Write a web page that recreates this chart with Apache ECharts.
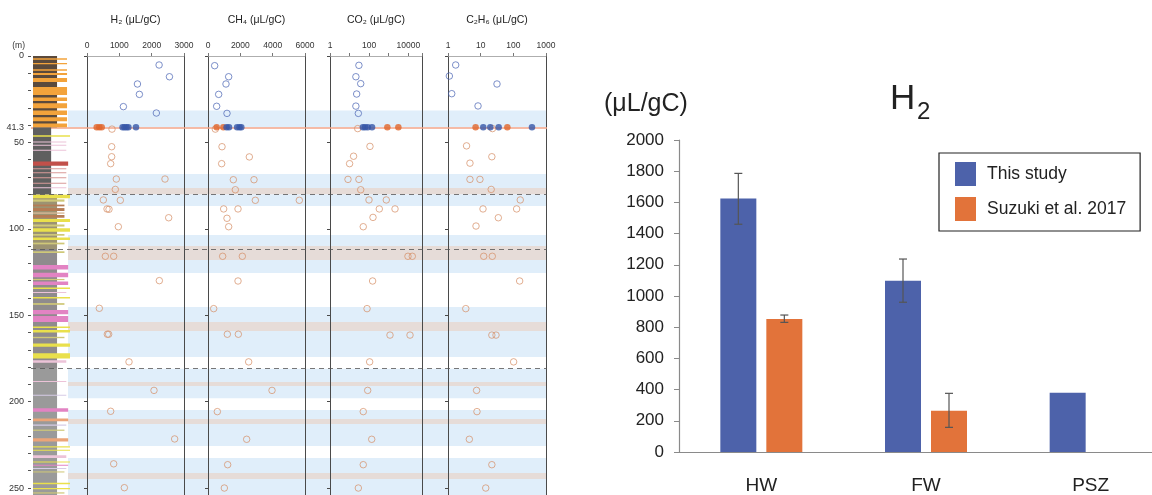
<!DOCTYPE html>
<html><head><meta charset="utf-8">
<script src="https://cdn.jsdelivr.net/npm/echarts@6/dist/echarts.min.js"></script>
<style>html,body{margin:0;padding:0;background:#fff}#c{width:1152px;height:495px}</style>
</head><body><div id="c"></div>
<script>
// ---------------- DATA ----------------
// depth profile (left): depth in m
const faultDepth = 41.3;
const boundaryDepths = [80, 111.7, 180.6];
const bandsBlue = [[31.5,41.3],[68.3,76.4],[80,86.8],[103.6,110],[118,125.6],[145.3,153.9],[159.1,174.2],[181,188.7],[191,198],[204.9,210],[213,225.7],[232.6,241.3],[244.8,260]];
const bandsGray = [[76.4,80],[110,118],[153.9,159.1],[188.7,191],[210,213],[241.3,244.8]];

// lithology units [top, bottom, kind]
const litUnits = [[0,41.3,'dk'],[41.3,80,'dg'],[80,111.7,'ol'],[111.7,180.6,'gr'],[180.6,260,'gr2']];
// lithology stripes [top, bottom, kind]
const litStripes = [
 [1.3,2.2,'o'],[4,4.8,'o'],[7.6,8.6,'o'],[9.9,11,'o'],[12.8,15,'o'],[18,22.6,'o'],[24,26,'o'],[27.3,30.3,'o'],[31.6,34.2,'o'],[35.5,37.7,'o'],[39,41.3,'o'],
 [45.8,46.8,'y'],[49.5,50,'pf'],[51.3,51.8,'pf'],[54.3,54.8,'pf'],[61,63.5,'r'],[65,65.6,'rf'],[67.3,67.9,'rf'],[70.2,70.8,'rf'],[73.3,73.9,'rf'],[76,76.5,'pf'],
 [80.3,82.3,'y'],[83,84.3,'yo'],[86,87,'b'],[88,89.7,'b'],[90.5,91.3,'bl'],[92,93.6,'b'],[94.3,96,'y'],[97.5,98.7,'yo'],[99.7,101.7,'y'],[103,104,'yo'],[105,106.5,'y'],[108,109,'yo'],
 [113,114,'yo'],[121,123.5,'p'],[125.5,128,'p'],[129,129.7,'yo'],[130.5,132.5,'p'],[134,134.8,'y'],[136.5,137.2,'pf'],[139.5,140.3,'y'],[143,144,'yo'],[147,149.5,'p'],[150.5,154,'p'],[156.6,157.4,'y'],[158.6,160,'y'],[162.5,163.3,'yo'],[166.3,168.2,'y'],[172,175,'y'],[176,177.5,'pf'],
 [188,188.6,'pf'],[196,196.6,'lv'],[203.9,205.8,'p'],[209.7,211.4,'s'],[213.3,213.9,'lv'],[216.2,216.9,'yo'],[221.2,223.1,'s'],[225.8,226.5,'y'],[227.8,228.5,'y'],[231,232.6,'pf'],[234.6,235.3,'y'],[236.5,237.1,'p'],[238.4,239,'lv'],[240.4,241,'yo'],[247,247.8,'y'],[250,250.7,'y'],[252.5,253.2,'yo']
];

// H2 [value, depth]
const h2Upper = [[2230,5.2],[2550,12],[1560,16.2],[1620,22.2],[1125,29.3],[2145,33]];
const h2FaultThisStudy = [1100,1160,1220,1280,1515];
const h2FaultSuzuki = [300,380,455];
const h2Lower = [[773,42.3],[763,52.5],[763,58.3],[732,62.3],[907,71.2],[2412,71.2],[876,77.2],[505,83.3],[1031,83.5],[620,88.5],[680,88.7],[2526,93.6],[969,98.8],[567,115.9],[825,115.9],[2237,130],[381,146],[629,161],[670,161],[1299,177],[2072,193.5],[732,205.6],[2711,221.6],[825,236],[1155,249.8]];
// CH4
const ch4Upper = [[412,5.6],[1278,12],[1113,16.2],[660,22.2],[536,29.1],[1175,33.2]];
const ch4FaultThisStudy = [1150,1300,1800,1950,2060];
const ch4FaultSuzuki = [536,948];
const ch4Lower = [[454,42.3],[866,52.5],[2557,58.4],[845,62.3],[1567,71.6],[2845,71.6],[1691,77.4],[2928,83.5],[5649,83.5],[969,88.5],[1856,88.5],[1175,93.9],[1278,98.8],[907,115.9],[2124,115.9],[1856,130.2],[351,146.2],[1196,161],[1876,161],[2515,177],[3959,193.5],[577,205.8],[2392,221.8],[1216,236.5],[1010,250]];
// CO2
const co2Upper = [[30,5.4],[21,12],[37,16],[23,22],[21,29],[28,33.2]];
const co2FaultThisStudy = [48,62,85,140];
const co2FaultSuzuki = [850,3100];
const co2Lower = [[26,42],[110,52.3],[16,58],[10,62.3],[8.3,71.4],[30,71.4],[37,77.4],[98,83.3],[750,83.3],[330,88.5],[2090,88.5],[157,93.4],[50,98.8],[9600,115.9],[16000,115.9],[150,130.2],[78,146.2],[1160,161.5],[12200,161.5],[106,177],[84,193.5],[50,205.8],[135,221.8],[50,236.5],[28,250]];
// C2H6
const c2h6Upper = [[1.72,5.2],[1.1,11.6],[31.6,16.2],[1.3,21.8],[8.3,28.9]];
const c2h6FaultThisStudy = [12,19.7,35.6,372];
const c2h6FaultSuzuki = [7,65.5];
const c2h6Lower = [[23,42],[3.7,52],[22,58.3],[4.7,62],[4.7,71.4],[9.5,71.4],[21,77.2],[163,83.3],[11.8,88.5],[126,88.5],[34.7,93.6],[7.2,98.4],[12.4,115.9],[22.7,115.9],[156,130.2],[3.5,146.2],[22,161.5],[29.5,161.5],[102,177],[7.5,193.5],[7.7,205.8],[4.5,221.8],[22,236.5],[14.3,250]];

// bar chart (right)
const categories = ['HW','FW','PSZ'];
const thisStudy = [1625, 1098, 380];
const thisStudyErr = [[1460,1786],[960,1237],null];
const suzuki = [852, 265, null];
const suzukiErr = [[831,878],[158,376],null];
const yTicks = [0, 200, 400, 600, 800, 1000, 1200, 1400, 1600, 1800, 2000];

// ---------------- STYLE ----------------
const FONT = '"Liberation Sans", Arial, sans-serif';
const DMAX = 260;
const plain = v => String(v);
const LIT_UNIT = {dk:{c:'#5b4a3c',w:0.65}, dg:{c:'#5f5f5f',w:0.49}, ol:{c:'#9c9372',w:0.65}, gr:{c:'#8f8b8d',w:0.65}, gr2:{c:'#9a9a9a',w:0.65}};
const LIT_STRIPE = {o:{c:'#f3a33b',w:0.92}, y:{c:'#e9e04c',w:1}, yo:{c:'#cfc878',w:0.85}, b:{c:'#b57c55',w:0.85}, bl:{c:'#d8b898',w:0.85},
  r:{c:'#c2504a',w:0.95}, rf:{c:'#d89a98',w:0.9}, p:{c:'#e283c3',w:0.95}, pf:{c:'#ecc3d8',w:0.9}, s:{c:'#eba478',w:0.95}, lv:{c:'#d6cbe6',w:0.9}};
const C_BLUE = '#3656a8', C_ORANGE = '#e0652a', C_BLUE_O = '#4a64b4', C_ORANGE_O = '#d58e66';

const panels = [
  {name:'H₂ (μL/gC)', left:87, width:97, type:'value', min:0, max:3000, interval:1000, up:h2Upper, ft:h2FaultThisStudy, fs:h2FaultSuzuki, lo:h2Lower},
  {name:'CH₄ (μL/gC)', left:208, width:97, type:'value', min:0, max:6000, interval:2000, up:ch4Upper, ft:ch4FaultThisStudy, fs:ch4FaultSuzuki, lo:ch4Lower},
  {name:'CO₂ (μL/gC)', left:330, width:92, type:'log', min:1, max:50000, show:[0,2,4], up:co2Upper, ft:co2FaultThisStudy, fs:co2FaultSuzuki, lo:co2Lower},
  {name:'C₂H₆ (μL/gC)', left:448, width:98, type:'log', min:1, max:1000, show:[0,1,2,3], up:c2h6Upper, ft:c2h6FaultThisStudy, fs:c2h6FaultSuzuki, lo:c2h6Lower}
];

const GH = 449.3; // grid height for depth 0..260
const G = o => Object.assign({outerBoundsMode:'none', containLabel:false}, o);
const grids = [
  G({left:31, top:56, width:516, height:GH}),  // 0 depth axis + lines
  G({left:33, top:56, width:37, height:GH}),   // 1 lithology
  G({left:68, top:56, width:479, height:GH})   // 2 bands
];
const xAxes = [0,1,2].map(g => ({type:'value', gridIndex:g, min:0, max:1, show:false}));
const depthHidden = g => ({type:'value', gridIndex:g, inverse:true, min:0, max:DMAX, show:false});
const yAxes = [
  {type:'value', gridIndex:0, inverse:true, min:0, max:DMAX, interval:50,
   axisLine:{show:false}, splitLine:{show:false},
   axisTick:{show:true, length:3, lineStyle:{color:'#555'}},
   minorTick:{show:true, splitNumber:5, length:3, lineStyle:{color:'#555'}},
   axisLabel:{fontSize:9, color:'#333', margin:7, fontFamily:FONT, formatter: v => v <= 250 ? String(v) : ''},
   name:'(m)', nameLocation:'start', nameGap:6,
   nameTextStyle:{fontSize:8.5, color:'#333', fontFamily:FONT, align:'right', padding:[0,6,0,0]}},
  depthHidden(1), depthHidden(2)
];
const series = [];

// bands
function rectItem(x1){
  return function(params, api){
    const a = api.coord([0, api.value(1)]);
    const b = api.coord([x1(params), api.value(2)]);
    return {type:'rect', shape:{x:a[0], y:a[1], width:b[0]-a[0], height:Math.max(1, b[1]-a[1])}, style:api.style()};
  };
}
[[bandsBlue,'#e0eefa'],[bandsGray,'#e6dcd8']].forEach(([arr,col]) => {
  series.push({type:'custom', xAxisIndex:2, yAxisIndex:2, z:-5, silent:true, clip:false,
    encode:{x:0, y:[1,2]}, itemStyle:{color:col},
    data: arr.map(b => [0, b[0], b[1]]), renderItem: rectItem(() => 1)});
});
// lithology
series.push({type:'custom', xAxisIndex:1, yAxisIndex:1, z:1, silent:true, clip:false, encode:{x:0, y:[1,2]},
  data: litUnits.map(u => ({value:[0,u[0],u[1]], itemStyle:{color:LIT_UNIT[u[2]].c}})),
  renderItem: rectItem(p => LIT_UNIT[litUnits[p.dataIndex][2]].w)});
series.push({type:'custom', xAxisIndex:1, yAxisIndex:1, z:1.5, silent:true, clip:false, encode:{x:0, y:[1,2]},
  data: litStripes.map(s => ({value:[0,s[0],s[1]], itemStyle:{color:LIT_STRIPE[s[2]].c}})),
  renderItem: rectItem(p => LIT_STRIPE[litStripes[p.dataIndex][2]].w)});
// fault line and boundaries
series.push({type:'line', xAxisIndex:0, yAxisIndex:0, data:[], z:1, silent:true,
  markLine:{silent:true, z:1, symbol:['none','none'], animation:false,
    data:[{yAxis:faultDepth, lineStyle:{color:'#f3a588', width:1.6, type:'solid'},
      label:{show:true, position:'start', formatter:String(faultDepth), fontSize:9, color:'#333', fontFamily:FONT, distance:7}}]}});
series.push({type:'line', xAxisIndex:0, yAxisIndex:0, data:[], z:3, silent:true,
  markLine:{silent:true, z:3, symbol:['none','none'], animation:false, label:{show:false},
    data: boundaryDepths.map(d => ({yAxis:d, lineStyle:{color:'#555', width:0.8, type:[5,4]}}))}});

// panels
panels.forEach((p, i) => {
  const g = 3 + i;
  grids.push(G({left:p.left, top:56, width:p.width, height:GH}));
  const xa = {type:p.type, gridIndex:g, position:'top', min:p.min, max:p.max,
    axisLine:{show:true, lineStyle:{color:'#999', width:0.8}},
    axisTick:{show:true, length:3, lineStyle:{color:'#777'}},
    axisLabel:{fontSize:8.5, color:'#333', margin:6, fontFamily:FONT, formatter:plain},
    splitLine:{show:false}, name:p.name, nameLocation:'middle', nameGap:30,
    nameTextStyle:{fontSize:10.5, color:'#222', fontFamily:FONT}};
  if (p.type === 'value') xa.interval = p.interval;
  else {
    xa.logBase = 10;
    xa.axisLabel.formatter = v => {
      const e = Math.log10(v), r = Math.round(e);
      return (Math.abs(e - r) < 1e-6 && p.show.includes(r)) ? String(Math.round(v)) : '';
    };
  }
  xAxes.push(xa);
  yAxes.push({type:'value', gridIndex:g, inverse:true, min:0, max:DMAX, interval:50,
    axisLine:{show:true, lineStyle:{color:'#4a4a4a', width:1}},
    axisTick:{show:true, length:3, lineStyle:{color:'#4a4a4a'}},
    axisLabel:{show:false}, splitLine:{show:false}});
  const yi = yAxes.length - 1;
  yAxes.push({type:'value', gridIndex:g, position:'right', inverse:true, min:0, max:DMAX,
    axisLine:{show:true, lineStyle:{color:'#4a4a4a', width:1}},
    axisTick:{show:false}, axisLabel:{show:false}, splitLine:{show:false}});
  const xi = xAxes.length - 1;
  const base = {type:'scatter', xAxisIndex:xi, yAxisIndex:yi, symbol:'circle', symbolSize:6.5, silent:true, animation:false};
  series.push(Object.assign({}, base, {z:2, data:p.lo, itemStyle:{color:'rgba(0,0,0,0)', borderColor:C_ORANGE_O, borderWidth:0.9}}));
  series.push(Object.assign({}, base, {z:2, data:p.up, itemStyle:{color:'rgba(0,0,0,0)', borderColor:C_BLUE_O, borderWidth:0.9}}));
  series.push(Object.assign({}, base, {z:4, data:p.fs.map(v => [v, faultDepth]), itemStyle:{color:C_ORANGE}}));
  series.push(Object.assign({}, base, {z:4, data:p.ft.map(v => [v, faultDepth]), itemStyle:{color:C_BLUE}}));
});

// bar chart
const gBar = grids.length;
grids.push(G({left:679, top:140, height:312, width:494}));
xAxes.push({type:'category', gridIndex:gBar, data:categories,
  axisLine:{show:true, lineStyle:{color:'#8a8a8a', width:1.2}}, axisTick:{show:false},
  axisLabel:{fontSize:19, color:'#222', margin:24, fontFamily:FONT}});
const xBar = xAxes.length - 1;
yAxes.push({type:'value', gridIndex:gBar, min:yTicks[0], max:yTicks[yTicks.length-1], interval:yTicks[1]-yTicks[0],
  axisLine:{show:true, lineStyle:{color:'#8a8a8a', width:1.2}},
  axisTick:{show:true, length:5, lineStyle:{color:'#8a8a8a'}},
  axisLabel:{fontSize:17, color:'#222', margin:15, fontFamily:FONT, formatter:plain}, splitLine:{show:false}});
const yBar = yAxes.length - 1;
const BAR_W = 36, BAR_GAP = 10;
series.push({type:'bar', name:'This study', xAxisIndex:xBar, yAxisIndex:yBar, data:thisStudy,
  barWidth:BAR_W, barGap:(BAR_GAP/BAR_W*100)+'%', itemStyle:{color:'#4d62aa'}, silent:true});
series.push({type:'bar', name:'Suzuki et al. 2017', xAxisIndex:xBar, yAxisIndex:yBar, data:suzuki,
  barWidth:BAR_W, itemStyle:{color:'#e2733a'}, silent:true});
const errData = [];
thisStudyErr.forEach((e, i) => { if (e) errData.push([i, e[0], e[1], -1]); });
suzukiErr.forEach((e, i) => { if (e) errData.push([i, e[0], e[1], 1]); });
series.push({type:'custom', xAxisIndex:xBar, yAxisIndex:yBar, z:5, silent:true, encode:{x:0, y:[1,2]},
  data: errData,
  renderItem(params, api){
    const lo = api.coord([api.value(0), api.value(1)]);
    const hi = api.coord([api.value(0), api.value(2)]);
    const x = lo[0] + api.value(3) * (BAR_W + BAR_GAP) / 2;
    const cap = 4;
    const st = {stroke:'#555', lineWidth:1.2};
    return {type:'group', children:[
      {type:'line', shape:{x1:x, y1:lo[1], x2:x, y2:hi[1]}, style:st},
      {type:'line', shape:{x1:x-cap, y1:lo[1], x2:x+cap, y2:lo[1]}, style:st},
      {type:'line', shape:{x1:x-cap, y1:hi[1], x2:x+cap, y2:hi[1]}, style:st}
    ]};
  }});

const chart = echarts.init(document.getElementById('c'), null, {renderer:'canvas'});
chart.setOption({
  animation:false,
  backgroundColor:'#ffffff',
  textStyle:{fontFamily:FONT},
  title:[
    {text:'(μL/gC)', left:604, top:92, padding:0, textStyle:{fontSize:25, fontWeight:'normal', color:'#222', fontFamily:FONT}},
    {text:'H', left:890, top:82, padding:0, textStyle:{fontSize:35, fontWeight:'normal', color:'#222', fontFamily:FONT}},
    {text:'2', left:917, top:100, padding:0, textStyle:{fontSize:24, fontWeight:'normal', color:'#222', fontFamily:FONT}}
  ],
  legend:{data:['This study','Suzuki et al. 2017'], orient:'vertical', left:939, top:153, selectedMode:false,
    padding:[9,14,10,16], itemWidth:21, itemHeight:24, itemGap:11, icon:'rect',
    borderColor:'#222', borderWidth:1.2,
    textStyle:{fontSize:17.5, color:'#222', fontFamily:FONT, padding:[0,0,0,6]}},
  grid:grids, xAxis:xAxes, yAxis:yAxes, series:series
});
</script></body></html>
